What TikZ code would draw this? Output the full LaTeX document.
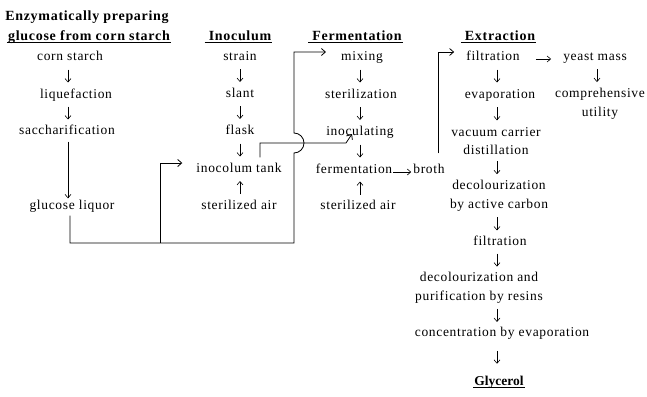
\documentclass[tikz,border=0pt]{standalone}
\usepackage{fontspec}
\setmainfont{Liberation Serif}[LetterSpace=5]
\usetikzlibrary{arrows.meta}
\newcommand\downarr[3]{\path (#1.south -| #3) -- (#2.north -| #3) coordinate[midway] (mm); \draw[arr] ([yshift=6.5pt]mm) -- ([yshift=-6.5pt]mm);}
\newcommand\uparr[3]{\path (#1.north -| #3) -- (#2.south -| #3) coordinate[midway] (mm); \draw[arr] ([yshift=-6.5pt]mm) -- ([yshift=6.5pt]mm);}
\begin{document}
\begin{tikzpicture}[x=1pt,y=-1pt,
  txt/.style={inner sep=0pt, font=\fontsize{13.5}{18.5}\selectfont, text height=8.5pt, text depth=2.5pt},
  txtm/.style={inner sep=0pt, font=\fontsize{13.5}{18.5}\selectfont, align=center},
  hdr/.style={inner sep=0pt, font=\fontsize{14}{16}\selectfont\bfseries, text height=9pt, text depth=3pt},
  arr/.style={-{Straight Barb[length=3.5pt,width=6pt]}, line width=0.6pt},
  conn/.style={line width=0.8pt},
  conarr/.style={conn, -{Straight Barb[length=4pt,width=7pt]}},
  uline/.style={line width=0.8pt}
]
\useasboundingbox (0,0) rectangle (647,396);
\fill[white] (0,0) rectangle (647,396);
% column coordinates
\coordinate (c1) at (68,0);
\coordinate (c2) at (240,0);
\coordinate (c3) at (360,0);
\coordinate (c4) at (497,0);
\coordinate (c5) at (597,0);
% headers
\node[hdr] (h1a) at (87,18) {Enzymatically preparing};
\node[hdr] (h1b) at (89,38) {glucose from corn starch};
\node[hdr] (h2) at (240,38) {Inoculum};
\node[hdr] (h3) at (357,38) {Fermentation};
\node[hdr] (h4) at (500,38) {Extraction};
\node[hdr, font=\fontsize{13.5}{16}\selectfont\bfseries\addfontfeatures{LetterSpace=0}] (gy) at (499,382) {Glycerol};
\draw[uline] ([xshift=-1pt,yshift=2pt]h1b.south west) -- ([xshift=1pt,yshift=2pt]h1b.south east);
\draw[uline] ([xshift=-4pt,yshift=2pt]h2.south west) -- ([xshift=1pt,yshift=2pt]h2.south east);
\draw[uline] ([xshift=-4pt,yshift=2pt]h3.south west) -- ([xshift=1pt,yshift=2pt]h3.south east);
\draw[uline] ([xshift=-4pt,yshift=2pt]h4.south west) -- ([xshift=1pt,yshift=2pt]h4.south east);
\draw[uline] ([xshift=-1pt,yshift=1pt]gy.south west) -- ([xshift=1pt,yshift=1pt]gy.south east);
% column 1
\node[txt] (cs) at (70,57) {corn starch};
\node[txt] (lq) at (76,95) {liquefaction};
\node[txt] (sc) at (67,131) {saccharification};
\node[txt] (gl) at (72,206) {glucose liquor};
% column 2
\node[txt] (st) at (240,57) {strain};
\node[txt] (sl) at (240,94) {slant};
\node[txt] (fl) at (240,131) {flask};
\node[txt] (tk) at (239,169) {inocolum tank};
\node[txt] (sa1) at (239,206) {sterilized air};
% column 3
\node[txt] (mx) at (362,57) {mixing};
\node[txt] (sz) at (361,95) {sterilization};
\node[txt] (ic) at (360,132) {inoculating};
\node[txt] (fm) at (354,170) {fermentation};
\node[txt] (br) at (429,170) {broth};
\node[txt] (sa2) at (358,206) {sterilized air};
% column 4
\node[txt] (f1) at (493,57) {filtration};
\node[txt] (ym) at (595,57) {yeast mass};
\node[txt] (ev) at (500,95) {evaporation};
\node[txtm] (cu) at (600,104) {comprehensive\\utility};
\node[txtm] (vc) at (496,141) {vacuum carrier\\distillation};
\node[txtm] (dc) at (499,196) {decolourization\\by active carbon};
\node[txt] (f2) at (500,242) {filtration};
\node[txtm] (dr) at (479,288) {decolourization and\\purification by resins};
\node[txt] (ce) at (502,333) {concentration by evaporation};
% flow arrows
\downarr{cs}{lq}{c1}
\downarr{lq}{sc}{c1}
\draw[arr, shorten <=5pt, shorten >=2pt] (sc.south -| c1) -- (gl.north -| c1);
\downarr{st}{sl}{c2}
\downarr{sl}{fl}{c2}
\downarr{fl}{tk}{c2}
\uparr{sa1}{tk}{c2}
\downarr{mx}{sz}{c3}
\downarr{sz}{ic}{c3}
\downarr{ic}{fm}{c3}
\uparr{sa2}{fm}{c3}
\downarr{f1}{ev}{c4}
\downarr{ev}{vc}{c4}
\downarr{vc}{dc}{c4}
\downarr{dc}{f2}{c4}
\downarr{f2}{dr}{c4}
\downarr{dr}{ce}{c4}
\downarr{ce}{gy}{c4}
\downarr{ym}{cu}{c5}
\draw[arr, shorten <=1pt, shorten >=2pt] ([yshift=-2pt]fm.east) -- ([yshift=-2pt]br.west);
\draw[arr, shorten <=16pt, shorten >=12pt] ([yshift=-2pt]f1.east) -- ([yshift=-2pt]f1.east -| ym.west);
% connectors
\coordinate (b1) at (70,243);
\coordinate (j1) at (160,243);
\coordinate (j2) at (160,163);
\coordinate (b2) at (294,243);
\coordinate (hl) at (294,153);
\coordinate (tp) at (294,52);
\draw[conarr, shorten >=15pt] ([yshift=-4pt]gl.south -| b1) -- (b1) -- (b2) -- (hl) arc[start angle=-90, end angle=90, radius=10pt] -- (tp) -- (mx.west |- tp);
\draw[conarr, shorten >=14pt] (j1) -- (j2) -- (tk.west |- j2);
\coordinate (k1) at (260,143);
\coordinate (k2) at (346,143);
\coordinate (k3) at (352,134);
\draw[conarr] ([yshift=6pt]tk.north -| k1) -- (k1) -- (k2) -- (k3);
\coordinate (r1) at (438,52);
\draw[conarr, shorten >=12pt] ([yshift=11pt]br.north -| r1) -- (r1) -- (f1.west |- r1);
\end{tikzpicture}
\end{document}
